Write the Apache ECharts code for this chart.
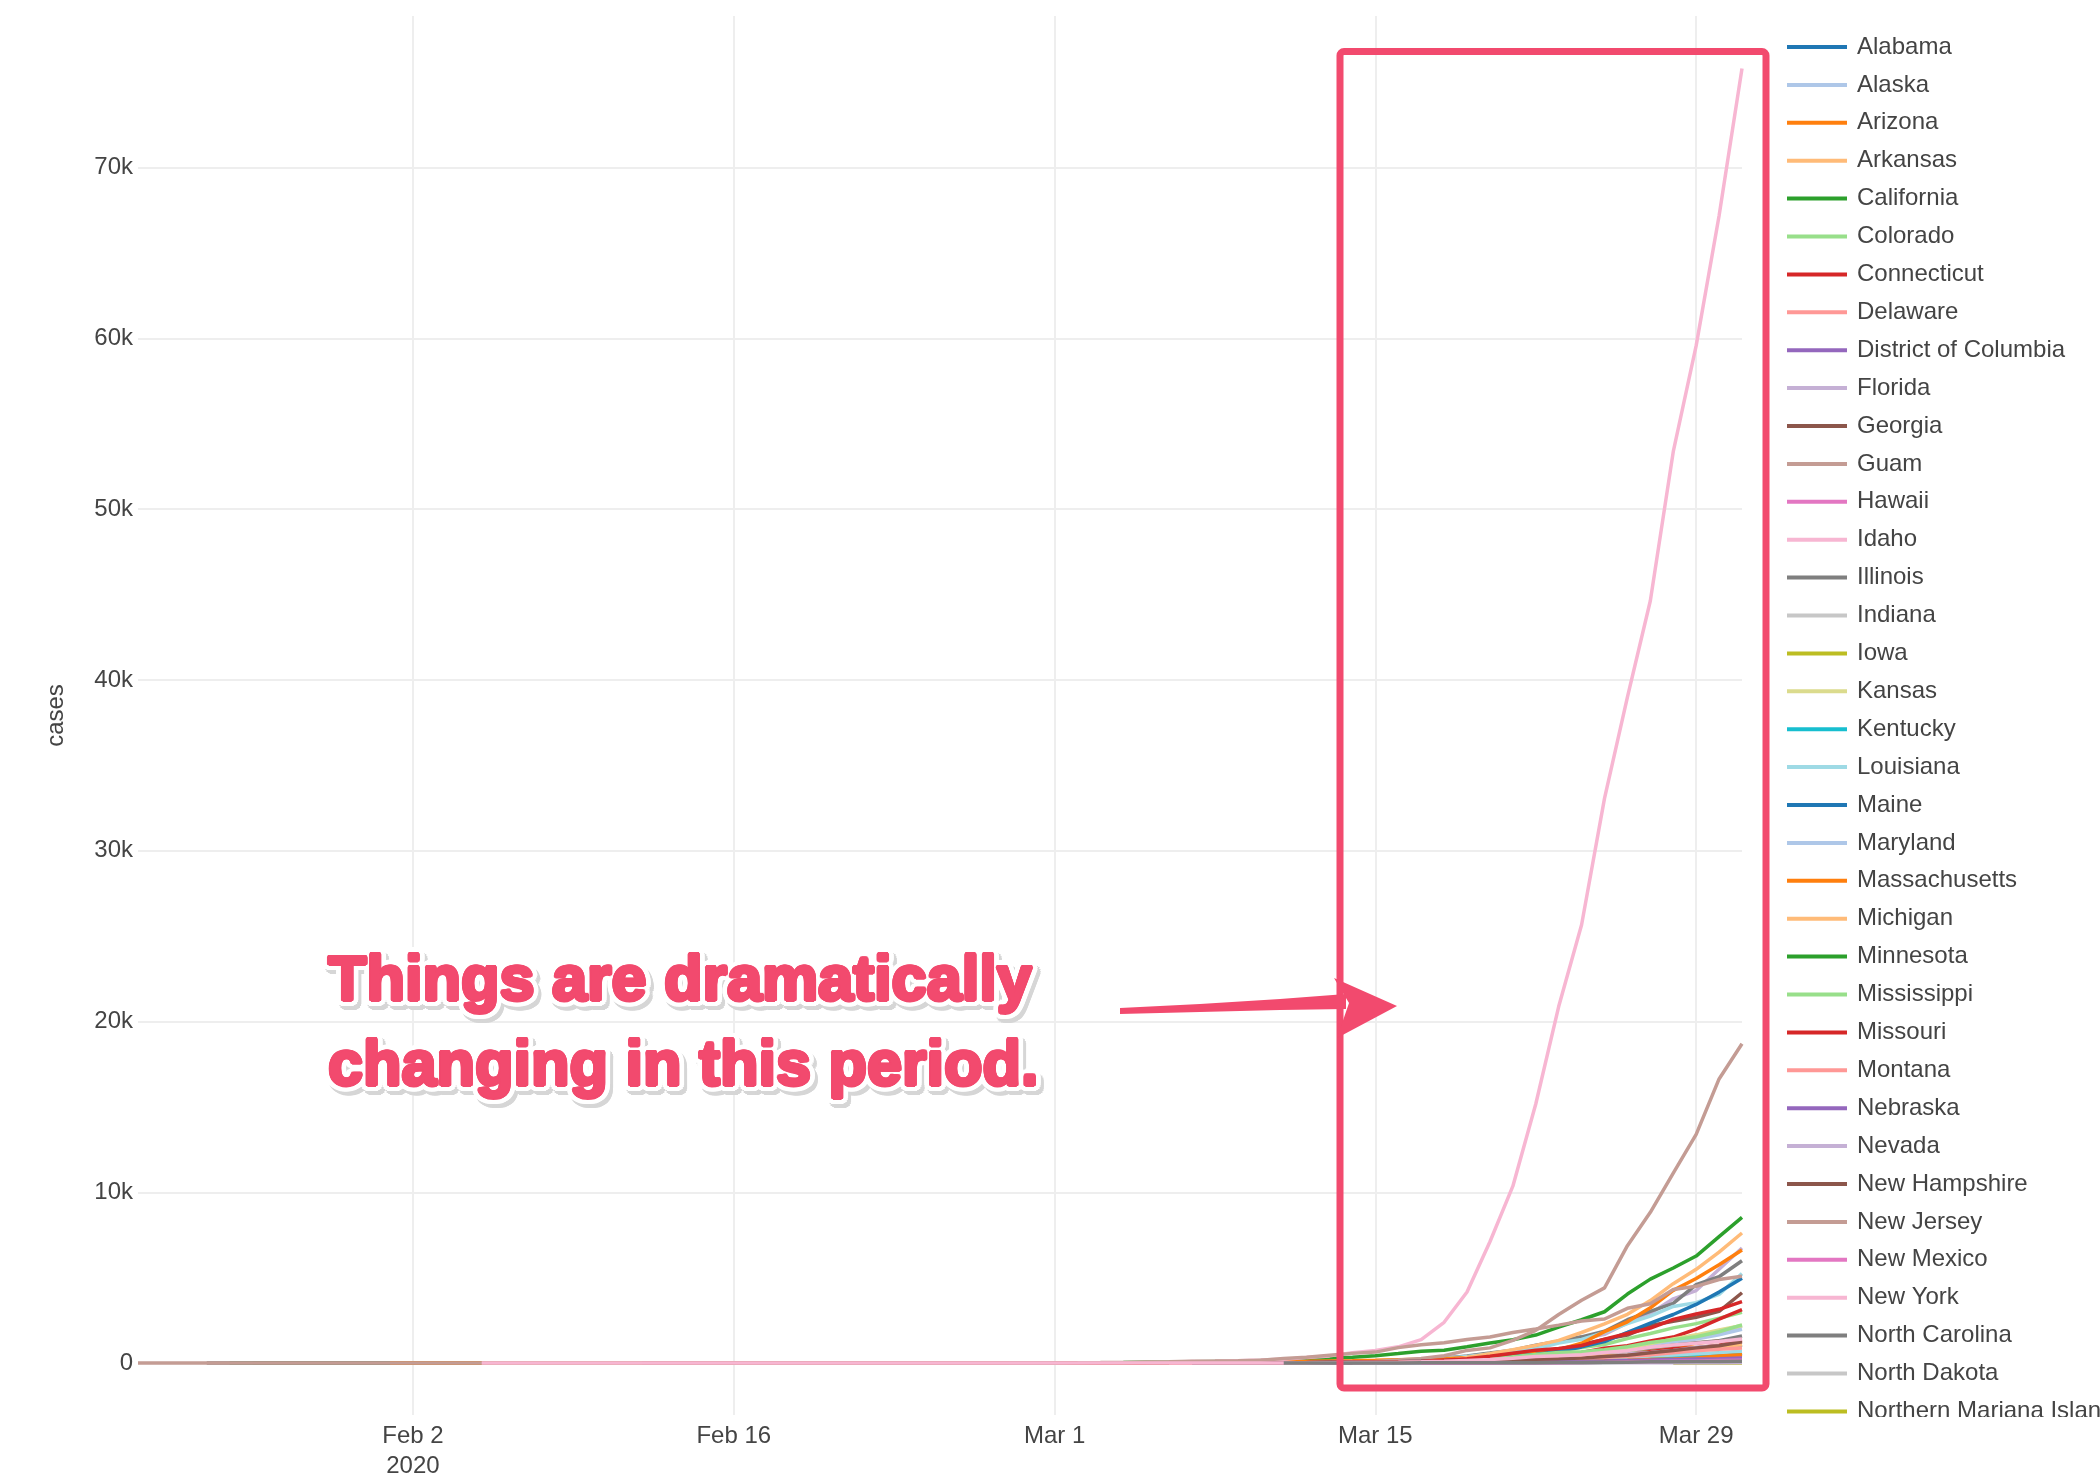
<!DOCTYPE html>
<html>
<head>
<meta charset="utf-8">
<script src="https://cdn.jsdelivr.net/npm/echarts@6/dist/echarts.min.js"></script>
<style>
html,body{margin:0;padding:0;background:#ffffff;}
#chart{width:2100px;height:1484px;}
</style>
</head>
<body>
<div id="chart"></div>
<script>
// ---------------- DATA ----------------
const states = ['Alabama','Alaska','Arizona','Arkansas','California','Colorado','Connecticut','Delaware','District of Columbia','Florida','Georgia','Guam','Hawaii','Idaho','Illinois','Indiana','Iowa','Kansas','Kentucky','Louisiana','Maine','Maryland','Massachusetts','Michigan','Minnesota','Mississippi','Missouri','Montana','Nebraska','Nevada','New Hampshire','New Jersey','New Mexico','New York','North Carolina','North Dakota','Northern Mariana Islands','Ohio','Oklahoma','Oregon','Pennsylvania','Puerto Rico','Rhode Island','South Carolina','South Dakota','Tennessee','Texas','Utah','Vermont','Virgin Islands','Virginia','Washington','West Virginia','Wisconsin','Wyoming'];

// first date of each state's series (cumulative cases, one value per day up to 2020-03-31)
const startDates = ['2020-03-13','2020-03-12','2020-01-26','2020-03-11','2020-01-25','2020-03-05','2020-03-08','2020-03-11','2020-03-07','2020-03-01','2020-03-02','2020-03-15','2020-03-06','2020-03-13','2020-01-24','2020-03-06','2020-03-08','2020-03-07','2020-03-06','2020-03-09','2020-03-12','2020-03-05','2020-02-01','2020-03-10','2020-03-06','2020-03-11','2020-03-07','2020-03-11','2020-03-06','2020-03-05','2020-03-02','2020-03-04','2020-03-11','2020-03-01','2020-03-03','2020-03-11','2020-03-28','2020-03-09','2020-03-07','2020-02-28','2020-03-06','2020-03-13','2020-03-01','2020-03-06','2020-03-10','2020-03-05','2020-02-12','2020-03-06','2020-03-07','2020-03-14','2020-03-07','2020-01-21','2020-03-17','2020-02-05','2020-03-11'];

const alabama = [6,12,23,29,39,51,78,106,131,157,196,242,386,538,639,712,806,911,1060];
const alaska = [1,1,1,1,3,6,9,12,14,21,22,36,42,59,69,85,102,114,119,133];
const arizona = [1,1,1,1,1,1, 1,1,1,1,1,1,1,1,1,1,1,1,1,1,1,1,1,1,1,1,1,1,1,1,1,1,1,1,1, 1,
  1,2,2,2,3,5,5,6,6,9,9,12,13,18,20,27,44,78,105,152,234,326,401,508,665,773,919,1157,1289,1413];
const arkansas = [1,6,9,12,16,22,33,62,96,100,118,165,192,219,280,335,381,404,426,473,523];
const california = [1,2,2,2,2,2,3,
  3,6,6,6,6,6,6,6,6,6,7,7,8,8,8,8,8,8,8,8,9,10,10,10,10,10,11,12,12,
  14,21,25,35,51,59,81,95,101,144,177,221,282,340,426,557,698,751,952,1177,1364,1642,2108,2538,3005,4040,4914,5565,6266,7400,8530];
const colorado = [2,8,8,8,12,17,34,45,72,101,136,161,184,216,277,364,475,591,720,912,1086,1430,1734,2061,2311,2627,2966];
const connecticut = [1,2,2,3,5,11,20,26,41,68,96,194,194,223,327,415,618,875,1012,1291,1524,1993,2571,3128];
const delaware = [1,1,4,6,7,8,16,19,30,39,45,56,68,104,119,130,163,214,232,264,319];
const districtOfColumbia = [1,1,1,4,10,10,10,16,17,22,31,40,71,77,102,116,137,183,231,267,304,342,401,495,586];
const florida = [2,2,3,3,4,7,11,13,14,15,26,34,50,76,100,149,192,314,390,563,700,1004,1226,1412,1682,2355,2900,3763,4246,5489,6741];
const georgia = [2,2,2,2,2,6,7,12,17,23,31,42,66,99,121,146,199,287,420,507,620,800,1097,1387,1643,2198,2446,2683,3032,4117];
const guam = [3,3,5,12,14,15,27,29,32,37,45,51,55,56,58,69,77];
const hawaii = [1,1,2,2,2,2,2,2,4,7,10,14,16,26,37,48,56,77,90,95,106,120,151,175,204,224];
const idaho = [1,2,4,5,8,9,11,23,31,47,68,73,123,189,230,261,310,415,525];
const illinois = [1,1,1,1,1,1,2,2,
  2,2,2,2,2,2,2,2,2,2,2,2,2,2,2,2,2,2,2,2,2,2,2,2,2,2,2,2,3,
  3,4,4,4,5,5,6,7,11,19,25,32,46,64,93,105,161,288,422,585,753,1049,1285,1537,1865,2538,3024,3491,4596,5056,5994];
const indiana = [1,1,2,2,6,10,12,13,15,20,25,30,39,56,80,128,203,264,366,479,645,981,1232,1514,1786,2158];
const iowa = [3,8,13,14,16,17,18,22,23,29,38,45,45,68,90,105,124,145,179,235,298,336,424,497];
const kansas = [1,1,1,2,2,4,6,8,9,11,18,21,34,44,55,66,82,107,126,170,213,262,329,372,428];
const kentucky = [1,1,4,6,8,8,11,14,16,21,26,28,36,48,63,88,104,125,163,198,248,302,394,439,480,591];
const louisiana = [1,1,6,19,36,77,91,136,196,280,392,537,763,837,1172,1388,1795,2305,2746,3315,3540,4025,5237];
const maine = [1,2,3,12,17,32,42,52,57,70,89,107,118,142,155,168,211,253,275,303];
const maryland = [3,3,3,5,6,9,12,18,26,31,41,60,85,107,149,190,244,288,349,423,583,775,995,1240,1413,1660,1985];
const massachusetts = [1,1,1,1,1,1,1,1,1,1,1,1,1,1,1,1,1,1,1,1,1,1,1,1,1,1,1,1,1,
  1,1,2,2,8,8,13,28,41,92,95,108,123,138,164,197,218,256,328,413,525,646,777,1159,1838,2417,3240,4257,4955,5752,6620];
const michigan = [2,2,2,16,25,33,53,65,83,334,552,788,1037,1328,1791,2295,2856,3657,4650,5488,6498,7615];
const minnesota = [1,1,2,2,3,5,9,14,21,35,54,60,77,89,115,138,169,235,262,287,344,398,441,503,576,629];
const mississippi = [1,1,6,10,12,21,34,50,80,140,207,249,320,377,485,579,663,758,847,937,1073];
const missouri = [1,1,1,1,1,2,4,5,5,6,11,18,31,50,73,102,178,223,356,502,670,838,903,1051,1327];
const montana = [1,1,5,6,7,8,11,12,15,19,34,45,51,66,90,108,129,154,171,184,198];
const nebraska = [1,1,3,3,3,5,10,13,14,17,18,21,24,27,37,38,48,52,61,73,81,96,108,120,145,172];
const nevada = [1,1,2,4,4,5,7,11,17,21,23,45,55,80,95,124,190,244,278,321,420,535,621,738,920,1008,1113];
const newHampshire = [1,2,2,2,2,4,4,4,5,5,6,6,7,13,17,26,26,39,44,55,65,78,101,108,137,158,214,258,314,367];
const newJersey = [1,2,4,4,6,11,15,23,29,69,69,98,178,267,427,742,890,1327,1914,2844,3675,4402,6876,8825,11124,13386,16636,18696];
const newMexico = [4,6,10,13,17,21,23,28,35,43,57,65,83,100,112,136,191,208,237,281,315];
const newYork = [1,1,2,11,22,44,89,106,142,173,217,326,421,610,732,950,1375,2387,4161,7102,10356,15168,20875,25665,33066,38987,44635,53363,59568,67174,75795];
const northCarolina = [1,1,1,2,2,2,2,7,7,15,17,24,33,38,64,92,137,184,253,305,353,495,636,763,887,1040,1191,1307,1584];
const northDakota = [1,1,1,1,1,1,3,6,7,19,28,30,32,36,45,52,68,94,98,109,126];
const northernMariana = [2,2,2,2];
const ohio = [3,3,4,5,13,26,37,50,67,88,119,169,247,351,442,564,704,867,1137,1406,1653,1933,2199];
const oklahoma = [1,1,1,2,2,2,3,4,7,10,17,29,44,49,53,67,81,106,164,248,322,377,429,481,565];
const oregon = [1,1,2,3,3,3,3,3,7,14,14,15,19,24,30,36,39,47,66,75,88,114,137,161,190,209,266,316,414,479,548,606,690];
const pennsylvania = [2,4,6,10,12,16,22,41,47,66,77,112,152,206,303,396,509,698,946,1260,1795,2345,2845,3432,4155,4963];
const puertoRico = [3,4,5,5,5,5,6,14,21,23,31,39,51,64,79,100,127,174,239];
const rhodeIsland = [2,2,2,2,2,3,3,3,3,5,5,5,14,20,20,21,23,33,44,54,66,83,106,124,132,165,203,239,294,408,488];
const southCarolina = [2,2,2,7,7,10,12,13,19,28,33,47,60,81,125,173,196,299,342,424,456,539,660,774,925,1083];
const southDakota = [5,8,8,9,9,9,10,11,11,14,14,14,21,28,30,41,46,58,68,90,101,108];
const tennessee = [1,1,1,3,4,7,9,18,26,32,39,52,74,98,154,233,371,505,615,667,784,957,1203,1373,1537,1834,2239];
const texas = [1,
  2,2,2,2,2,2,2,2,2,2,2,2,2,2,2,2,2,2,2,2,
  4,5,6,8,11,12,14,22,27,43,57,72,85,110,173,260,394,581,758,855,1026,1396,1731,2052,2552,2877,3147,3600];
const utah = [1,1,1,1,2,3,5,9,13,28,39,51,63,78,112,136,181,257,298,346,402,480,602,719,806,887];
const vermont = [1,1,1,1,2,2,2,5,8,12,12,18,22,29,49,52,75,95,123,158,184,211,235,256,293];
const virginIslands = [1,1,1,2,2,3,3,6,6,7,17,17,17,19,21,22,23,30];
const virginia = [2,2,2,7,9,17,30,41,46,51,67,77,99,122,149,220,254,290,391,460,604,739,890,1020,1250];
const washington = [1,1,1,1,1,1,1,1,1,1,1,
  1,1,1,1,1,1,1,1,1,1,1,1,1,1,1,1,1,1,1,1,1,1,1,1,1,1,1,1,4,
  11,18,27,39,70,79,102,118,136,162,267,337,457,568,643,904,1076,1187,1376,1524,1793,1996,2221,2469,2580,3207,3477,4311,4493,4896,5080];
const westVirginia = [1,2,2,8,12,16,20,39,51,76,96,113,124,145,162];
const wisconsin = [1,1,1,1,1,1,1,1,1,1,1,1,1,1,1,1,1,1,1,1,1,1,1,1,1,
  1,1,1,1,1,1,1,1,
  2,3,6,8,19,27,32,47,72,106,155,206,281,381,425,481,621,728,926,1055,1164,1266,1412];
const wyoming = [1,1,2,3,3,11,15,18,18,19,23,24,28,37,49,54,73,82,86,94,109];

const caseSeries = [alabama,alaska,arizona,arkansas,california,colorado,connecticut,delaware,districtOfColumbia,florida,georgia,guam,hawaii,idaho,illinois,indiana,iowa,kansas,kentucky,louisiana,maine,maryland,massachusetts,michigan,minnesota,mississippi,missouri,montana,nebraska,nevada,newHampshire,newJersey,newMexico,newYork,northCarolina,northDakota,northernMariana,ohio,oklahoma,oregon,pennsylvania,puertoRico,rhodeIsland,southCarolina,southDakota,tennessee,texas,utah,vermont,virginIslands,virginia,washington,westVirginia,wisconsin,wyoming];

const yTickValues = [0,10000,20000,30000,40000,50000,60000,70000];
const xTickDates = ['2020-02-02','2020-02-16','2020-03-01','2020-03-15','2020-03-29'];
const xRange = ['2020-01-21','2020-03-31'];
const yRange = [-3040, 78870];

const palette = ['#1f77b4','#aec7e8','#ff7f0e','#ffbb78','#2ca02c','#98df8a','#d62728','#ff9896','#9467bd','#c5b0d5','#8c564b','#c49c94','#e377c2','#f7b6d2','#7f7f7f','#c7c7c7','#bcbd22','#dbdb8d','#17becf','#9edae5'];

// ---------------- CHART ----------------
const FONT = "'Liberation Sans', Arial, Helvetica, sans-serif";
const TEXT = '#444444';
const ACCENT = '#f24a6e';
const MONTHS = ['Jan','Feb','Mar','Apr','May','Jun','Jul','Aug','Sep','Oct','Nov','Dec'];

function ts(s, addDays) {
  const p = s.split('-').map(Number);
  return new Date(p[0], p[1] - 1, p[2] + (addDays || 0)).getTime();
}
const xTickValues = xTickDates.map(d => ts(d));

const series = states.map((name, i) => ({
  name: name,
  type: 'line',
  symbol: 'none',
  showSymbol: false,
  smooth: false,
  color: palette[i % palette.length],
  lineStyle: { width: 3.5, color: palette[i % palette.length] },
  emphasis: { disabled: true },
  animation: false,
  data: caseSeries[i].map((v, k) => [ts(startDates[i], k), v])
}));

// annotation text built from layered copies (shadow, white halo, pink fill)
const annText = 'Things are dramatically\nchanging in this period.';
const annX = 328, annY = 940;
function textEl(dx, dy, fill, z) {
  return {
    type: 'text', x: annX + dx, y: annY + dy, z: z, silent: true,
    style: {
      text: annText, fill: fill, fontSize: 63, fontWeight: 'bold', fontFamily: FONT,
      lineHeight: 85, align: 'left', verticalAlign: 'top'
    }
  };
}
const annEls = [];
const rings = [[2.5, 12], [5, 16], [6.5, 20]];
rings.forEach(([r, n]) => {
  for (let k = 0; k < n; k++) {
    const a = 2 * Math.PI * k / n;
    annEls.push(textEl(r * Math.cos(a) + 3, r * Math.sin(a) + 4, '#d6d6d6', 120));
  }
});
rings.forEach(([r, n]) => {
  for (let k = 0; k < n; k++) {
    const a = 2 * Math.PI * k / n;
    annEls.push(textEl(r * Math.cos(a), r * Math.sin(a), '#ffffff', 121));
  }
});
[[1, 8], [1.8, 12]].forEach(([r, n]) => {
  for (let k = 0; k < n; k++) {
    const a = 2 * Math.PI * k / n;
    annEls.push(textEl(r * Math.cos(a), r * Math.sin(a), ACCENT, 122));
  }
});
annEls.push(textEl(0, 0, ACCENT, 122));

const chart = echarts.init(document.getElementById('chart'), null, { renderer: 'canvas' });
chart.setOption({
  backgroundColor: '#ffffff',
  animation: false,
  textStyle: { fontFamily: FONT },
  grid: { left: 138, top: 16, width: 1604, height: 1399, containLabel: false, outerBoundsMode: 'none' },
  xAxis: {
    type: 'value',
    min: ts(xRange[0]), max: ts(xRange[1]),
    axisLine: { show: false },
    axisTick: { show: false, customValues: xTickValues },
    axisLabel: {
      customValues: xTickValues,
      fontSize: 24, color: TEXT, fontFamily: FONT, margin: 6, lineHeight: 30,
      formatter: function (v) {
        const d = new Date(v);
        const s = MONTHS[d.getMonth()] + ' ' + d.getDate();
        return Math.abs(v - xTickValues[0]) < 1000 ? s + '\n' + d.getFullYear() : s;
      }
    },
    splitLine: { show: true, lineStyle: { color: '#eeeeee', width: 2 } }
  },
  yAxis: {
    type: 'value',
    min: yRange[0], max: yRange[1],
    name: 'cases', nameLocation: 'middle', nameGap: 70,
    nameTextStyle: { fontSize: 24, color: TEXT, fontFamily: FONT },
    axisLine: { show: false },
    axisTick: { show: false, customValues: yTickValues },
    axisLabel: {
      customValues: yTickValues,
      fontSize: 24, color: TEXT, fontFamily: FONT, margin: 5, padding: [4, 0, 0, 0],
      formatter: v => v === 0 ? '0' : (v / 1000) + 'k'
    },
    splitLine: { show: true, lineStyle: { color: '#eeeeee', width: 2 } }
  },
  legend: {
    type: 'plain', orient: 'vertical',
    left: 1782, top: 27, height: 2600, width: 600,
    icon: 'rect', itemWidth: 60, itemHeight: 4, itemGap: 7.9,
    selectedMode: false,
    textStyle: { fontSize: 24, color: TEXT, fontFamily: FONT, lineHeight: 30, padding: [0, 0, 0, 5] },
    data: states
  },
  series: series,
  graphic: [
    { type: 'rect', silent: true, z: 100, shape: { x: 1775, y: 1417, width: 330, height: 80 }, style: { fill: '#ffffff' } },
    { type: 'rect', silent: true, z: 110, shape: { x: 1340, y: 51.5, width: 426, height: 1336.5, r: 4 }, style: { fill: 'none', stroke: ACCENT, lineWidth: 7 } },
    { type: 'polygon', silent: true, z: 110, shape: { points: [[1120, 1008], [1200, 1004], [1280, 999], [1346, 994], [1346, 1009], [1280, 1010], [1200, 1012], [1120, 1014]] }, style: { fill: ACCENT } },
    { type: 'polygon', silent: true, z: 110, shape: { points: [[1334, 978], [1397, 1006], [1337, 1038], [1349, 1003]] }, style: { fill: ACCENT } }
  ].concat(annEls)
});
</script>
</body>
</html>
